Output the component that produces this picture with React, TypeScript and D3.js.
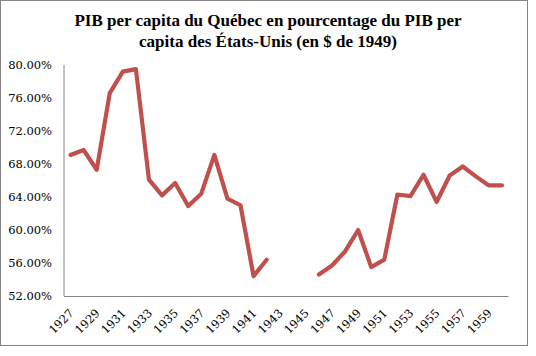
import React from "react";
import * as d3 from "d3";

const years: number[] = d3.range(1927, 1961);
const values: (number | null)[] = [
  69.1, 69.7, 67.3, 76.6, 79.2, 79.5, 66.1, 64.2, 65.7, 62.9,
  64.4, 69.1, 63.8, 63.0, 54.4, 56.4, null, null, null, 54.6,
  55.7, 57.4, 60.0, 55.5, 56.4, 64.3, 64.1, 66.7, 63.4, 66.6,
  67.7, 66.5, 65.4, 65.4,
];
const yTicks: number[] = [52, 56, 60, 64, 68, 72, 76, 80];
const titleLines: string[] = [
  "PIB per capita du Québec en pourcentage du PIB per",
  "capita des États-Unis (en $ de 1949)",
];

export default function App() {
  const W = 536, H = 356;
  const left = 64, right = 508.5, top = 65, bottom = 296;
  const x = d3.scaleBand<number>().domain(years).range([left, right]);
  const y = d3.scaleLinear().domain([52, 80]).range([bottom, top]);
  const line = d3
    .line<number | null>()
    .defined((d) => d !== null)
    .x((_, i) => (x(years[i]) as number) + x.bandwidth() / 2)
    .y((d) => y(d as number));
  const font = "'DejaVu Serif', serif";
  return (
    <svg width={W} height={H} style={{ position: "fixed", left: 0, top: 0, background: "#fff" }}>
      <rect x={0.5} y={0.5} width={527} height={345} fill="#fff" stroke="#868686" strokeWidth={1} />
      {titleLines.map((t, i) => (
        <text key={i} x={268} y={26 + i * 21} textAnchor="middle" fontFamily="'Liberation Serif', serif" fontWeight="bold" fontSize={17} fill="#000">
          {t}
        </text>
      ))}
      <line x1={left} x2={left} y1={top} y2={bottom} stroke="#868686" />
      <line x1={left} x2={right} y1={bottom + 0.5} y2={bottom + 0.5} stroke="#868686" />
      {yTicks.map((t) => (
        <text key={t} x={52} y={y(t)} dy="0.35em" textAnchor="end" fontFamily={font} fontSize={11.5} fill="#000">
          {t.toFixed(2)}%
        </text>
      ))}
      {years.filter((yr) => (yr - 1927) % 2 === 0).map((yr) => {
        const cx = (x(yr) as number) + x.bandwidth() / 2 + 1;
        const cy = bottom + 15;
        return (
          <text key={yr} transform={`translate(${cx},${cy}) rotate(-45)`} textAnchor="end" dy="0.35em" fontFamily={font} fontSize={11.5} fill="#000">
            {yr}
          </text>
        );
      })}
      <path d={line(values) || ""} fill="none" stroke="#C0504D" strokeWidth={4.2} strokeLinejoin="round" strokeLinecap="round" />
    </svg>
  );
}
